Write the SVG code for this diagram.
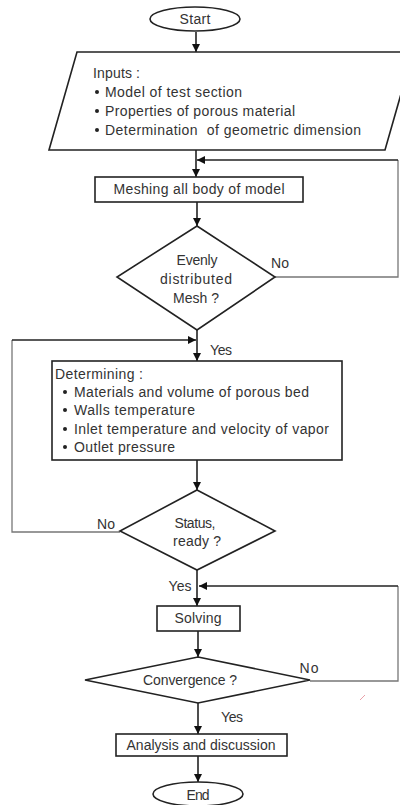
<svg xmlns="http://www.w3.org/2000/svg" width="400" height="805" viewBox="0 0 400 805">
<defs>
<marker id="ah" viewBox="0 0 10 10" refX="10" refY="5" markerWidth="8" markerHeight="8" markerUnits="userSpaceOnUse" orient="auto">
<path d="M0,0 L10,5 L0,10 Z" fill="#111"/>
</marker>
<style>
.sh{fill:#fff;stroke:#222;stroke-width:1.6}
.t{font-family:"Liberation Sans",Arial,sans-serif;font-size:14px;fill:#333}
.c{text-anchor:middle}
.ln{fill:none;stroke:#222;stroke-width:1.6}
.lt{fill:none;stroke:#777;stroke-width:1.3}
</style>
</defs>
<rect width="400" height="805" fill="#fff"/>

<g id="connectors">
<line class="ln" x1="196" y1="32" x2="196" y2="52" marker-end="url(#ah)"/>
<line class="ln" x1="196" y1="150" x2="196" y2="177" marker-end="url(#ah)"/>
<polyline class="lt" points="275,277 398,277 398,160"/>
<line class="ln" x1="398" y1="160" x2="197" y2="160" marker-end="url(#ah)"/>
<line class="ln" x1="197" y1="202" x2="197" y2="226" marker-end="url(#ah)"/>
<line class="ln" x1="197" y1="330" x2="197" y2="361" marker-end="url(#ah)"/>
<polyline class="lt" points="120,532 12,532 12,340"/>
<line class="ln" x1="12" y1="340" x2="196" y2="340" marker-end="url(#ah)"/>
<line class="ln" x1="197" y1="460" x2="197" y2="490" marker-end="url(#ah)"/>
<line class="ln" x1="197" y1="570" x2="197" y2="606" marker-end="url(#ah)"/>
<polyline class="lt" points="310,681 398,681 398,586"/>
<line class="ln" x1="398" y1="586" x2="199" y2="586" marker-end="url(#ah)"/>
<line class="ln" x1="198" y1="631" x2="198" y2="657" marker-end="url(#ah)"/>
<line class="ln" x1="198" y1="703" x2="198" y2="734" marker-end="url(#ah)"/>
<line class="ln" x1="198" y1="756" x2="198" y2="782" marker-end="url(#ah)"/>
<line x1="360" y1="700" x2="365" y2="695" stroke="#e9a0a8" stroke-width="1"/>
<text class="t c" x="280" y="268" textLength="18">No</text>
<text class="t" x="210" y="355" textLength="22">Yes</text>
<text class="t c" x="106" y="529" textLength="18">No</text>
<text class="t c" x="180" y="591" textLength="23">Yes</text>
<text class="t c" x="309" y="673" textLength="19">No</text>
<text class="t c" x="232" y="722" textLength="22">Yes</text>
</g>

<g id="start">
<ellipse class="sh" cx="195" cy="19" rx="45" ry="12"/>
<text class="t c" x="195" y="24" textLength="31">Start</text>
</g>

<g id="inputs">
<polygon class="sh" points="77,52 413,52 385,150 49,150"/>
<text class="t" x="93" y="78" textLength="47">Inputs :</text>
<circle cx="97" cy="92" r="2" fill="#222"/><text class="t" x="105" y="97" textLength="137">Model of test section</text>
<circle cx="97" cy="111" r="2" fill="#222"/><text class="t" x="105" y="116" textLength="190">Properties of porous material</text>
<circle cx="97" cy="130" r="2" fill="#222"/><text class="t" x="105" y="135" textLength="256" xml:space="preserve">Determination  of geometric dimension</text>
</g>

<g id="meshing">
<rect class="sh" x="95" y="177" width="208" height="25"/>
<text class="t c" x="199" y="194" textLength="171">Meshing all body of model</text>
</g>

<g id="evenly">
<polygon class="sh" points="197,226 275,277 197,330 117,277"/>
<text class="t c" x="197" y="265" textLength="41">Evenly</text>
<text class="t c" x="196" y="284" textLength="72">distributed</text>
<text class="t c" x="196" y="303" textLength="46">Mesh ?</text>
</g>

<g id="determining">
<rect class="sh" x="52" y="361" width="290" height="99"/>
<text class="t" x="55" y="379" textLength="88">Determining :</text>
<circle cx="65" cy="392" r="2" fill="#222"/><text class="t" x="74" y="397" textLength="235">Materials and volume of porous bed</text>
<circle cx="65" cy="410" r="2" fill="#222"/><text class="t" x="74" y="415" textLength="121">Walls temperature</text>
<circle cx="65" cy="429" r="2" fill="#222"/><text class="t" x="74" y="434" textLength="255">Inlet temperature and velocity of vapor</text>
<circle cx="65" cy="447" r="2" fill="#222"/><text class="t" x="74" y="452" textLength="101">Outlet pressure</text>
</g>

<g id="status">
<polygon class="sh" points="197,490 275,531 197,570 120,531"/>
<text class="t c" x="195" y="528" textLength="41">Status,</text>
<text class="t c" x="197" y="546" textLength="48">ready ?</text>
</g>

<g id="solving">
<rect class="sh" x="157" y="606" width="83" height="25"/>
<text class="t c" x="198" y="623" textLength="47">Solving</text>
</g>

<g id="convergence">
<polygon class="sh" points="198,657 310,680 198,703 85,680"/>
<text class="t c" x="190" y="685" textLength="94">Convergence ?</text>
</g>

<g id="analysis">
<rect class="sh" x="116" y="734" width="171" height="22"/>
<text class="t c" x="201" y="750" textLength="149">Analysis and discussion</text>
</g>

<g id="end">
<ellipse class="sh" cx="198" cy="794" rx="45" ry="12"/>
<text class="t c" x="198" y="800" textLength="23">End</text>
</g>
</svg>
